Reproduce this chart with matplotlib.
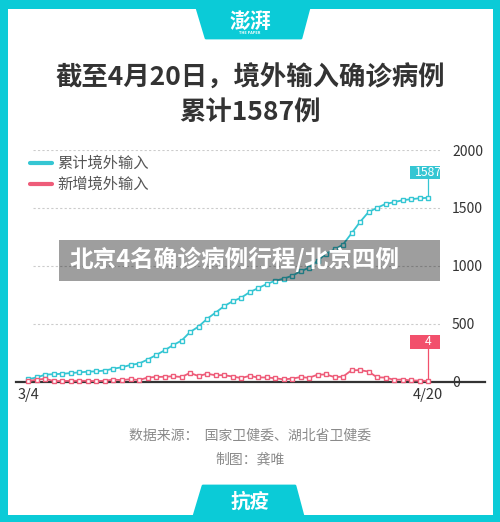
import matplotlib
matplotlib.use("Agg")
import matplotlib.pyplot as plt
from matplotlib.patches import Rectangle, Polygon

plt.rcParams['font.family'] = ['Noto Sans CJK SC', 'DejaVu Sans']
plt.rcParams['hatch.color'] = '#dedede'
plt.rcParams['hatch.linewidth'] = 0.6

# data: 3/4 .. 4/20
dates = ['3/4', '4/20']
cumulative = [20, 36, 60, 63, 67, 73, 79, 85, 88, 95, 111, 123, 143, 155, 189, 228,
              269, 314, 353, 427, 474, 541, 595, 650, 693, 723, 771, 806, 841, 870,
              888, 913, 951, 983, 1042, 1103, 1141, 1183, 1280, 1378, 1464, 1500,
              1534, 1549, 1566, 1575, 1583, 1587]
new_cases = [4, 16, 24, 3, 4, 6, 6, 6, 3, 7, 16, 12, 20, 12, 34, 39, 41, 45, 39, 74,
             47, 67, 54, 55, 43, 30, 48, 35, 35, 29, 18, 25, 38, 32, 59, 61, 38, 42,
             97, 98, 86, 36, 34, 15, 17, 9, 8, 4]
yticks = [0, 500, 1000, 1500, 2000]

TEAL = '#0BCBD7'
LINE_TEAL = '#35C6D3'
LINE_RED = '#EE5C79'
BOX_RED = '#F2506C'

W, H = 500, 522
fig = plt.figure(figsize=(5, 5.22), dpi=100, facecolor=TEAL)


def fx(x):
    return x / W


def fy(y):
    return 1 - y / H


# white card + tabs (kept under the axes)
fig.patches.append(Rectangle((fx(8), fy(515)), fx(485), (515 - 9) / H,
                             transform=fig.transFigure, fc='white', ec='none', zorder=-3))
fig.patches.append(Polygon([(fx(197), fy(8)), (fx(309), fy(8)), (fx(301), fy(38)),
                            (fx(206), fy(38))], closed=True, transform=fig.transFigure,
                           fc=TEAL, ec=TEAL, lw=2, joinstyle='round', zorder=-2))
fig.patches.append(Polygon([(fx(203), fy(486)), (fx(295), fy(486)), (fx(303), fy(516)),
                            (fx(194), fy(516))], closed=True, transform=fig.transFigure,
                           fc=TEAL, ec=TEAL, lw=2, joinstyle='round', zorder=-2))
fig.text(fx(250), fy(21), '澎湃', color='white', fontsize=15, fontweight='bold',
         ha='center', va='center', style='italic')
fig.text(fx(250), fy(33), 'THE PAPER', color='white', fontsize=2.8, fontweight='bold',
         ha='center', va='center')
fig.text(fx(250), fy(502), '抗疫', color='white', fontsize=14, fontweight='bold',
         ha='center', va='center')

# titles
fig.text(fx(250), fy(78), '截至4月20日，境外输入确诊病例', color='#333333', fontsize=19,
         fontweight='bold', ha='center', va='center')
fig.text(fx(250), fy(112), '累计1587例', color='#333333', fontsize=19,
         fontweight='bold', ha='center', va='center')

# legend
for yy, col, lab in [(163, LINE_TEAL, '累计境外输入'), (184, LINE_RED, '新增境外输入')]:
    fig.lines.append(plt.Line2D([fx(30), fx(52)], [fy(yy), fy(yy)], color=col, lw=3,
                                transform=fig.transFigure, solid_capstyle='round'))
    fig.text(fx(57), fy(yy), lab, color='#555555', fontsize=11, fontweight='light',
             ha='left', va='center')

# hatched band under baseline
fig.patches.append(Rectangle((fx(16), fy(403)), fx(469), 21 / H, transform=fig.transFigure,
                             fc='white', ec='none', hatch='//////', zorder=-1))

# chart
ax = fig.add_axes([fx(16), fy(381.5), fx(424), (381.5 - 150) / H])
ax.set_facecolor('none')
ax.set_xlim(-1.47, 48.41)
ax.set_ylim(0, 2000)
for s in ax.spines.values():
    s.set_visible(False)

for v in yticks[1:]:
    ax.axhline(v, xmin=0.04, xmax=1, color='#cccccc', lw=0.8, ls=(0, (2, 2)), zorder=1)
ax.axhline(0, xmin=0, xmax=469 / 424, color='#333333', lw=1.6, clip_on=False, zorder=2)

x = list(range(len(cumulative)))
ax.plot(x, cumulative, color=LINE_TEAL, lw=1.3, marker='s', ms=3.4, mfc='white',
        mec=LINE_TEAL, mew=1.0, clip_on=False, zorder=3)
ax.plot(x, new_cases, color=LINE_RED, lw=1.3, marker='s', ms=3.4, mfc='white',
        mec=LINE_RED, mew=1.0, clip_on=False, zorder=4)

ax.yaxis.tick_right()
ax.set_yticks(yticks)
ax.set_yticklabels([str(v) for v in yticks])
ax.tick_params(axis='y', length=0, pad=8.6, labelsize=10, labelcolor='#333333')
ax.set_xticks([0, len(cumulative) - 1])
ax.set_xticklabels(dates)
ax.tick_params(axis='x', length=0, pad=5, labelsize=10.5, labelcolor='#333333')

# end-point labels
last = len(cumulative) - 1
bw, bh = 4.35, 113
for val, top, col in [(cumulative[-1], 1750, LINE_TEAL), (new_cases[-1], 285, BOX_RED)]:
    ax.plot([last, last], [val, top], color=col, lw=0.9, zorder=2)
    ax.add_patch(Rectangle((last - bw / 2, top), bw, bh, fc=col, ec='none', zorder=5))
    ax.text(last, top + bh / 2, str(val), color='white', fontsize=8.8, fontweight='light',
            ha='center', va='center', zorder=6)

# grey overlay banner
fig.patches.append(Rectangle((fx(59), fy(281)), fx(381), 41 / H, transform=fig.transFigure,
                             fc='black', alpha=0.38, ec='none', zorder=10))
fig.text(fx(70), fy(259), '北京4名确诊病例行程/北京四例', color='white', fontsize=17,
         fontweight='bold', ha='left', va='center', zorder=11)

# source
fig.text(fx(250), fy(436), '数据来源：  国家卫健委、湖北省卫健委', color='#8a8a8a', fontsize=10,
         fontweight='light', ha='center', va='center')
fig.text(fx(250), fy(460), '制图：龚唯', color='#8a8a8a', fontsize=10, fontweight='light',
         ha='center', va='center')

fig.savefig('out.png', dpi=100, facecolor=TEAL)
